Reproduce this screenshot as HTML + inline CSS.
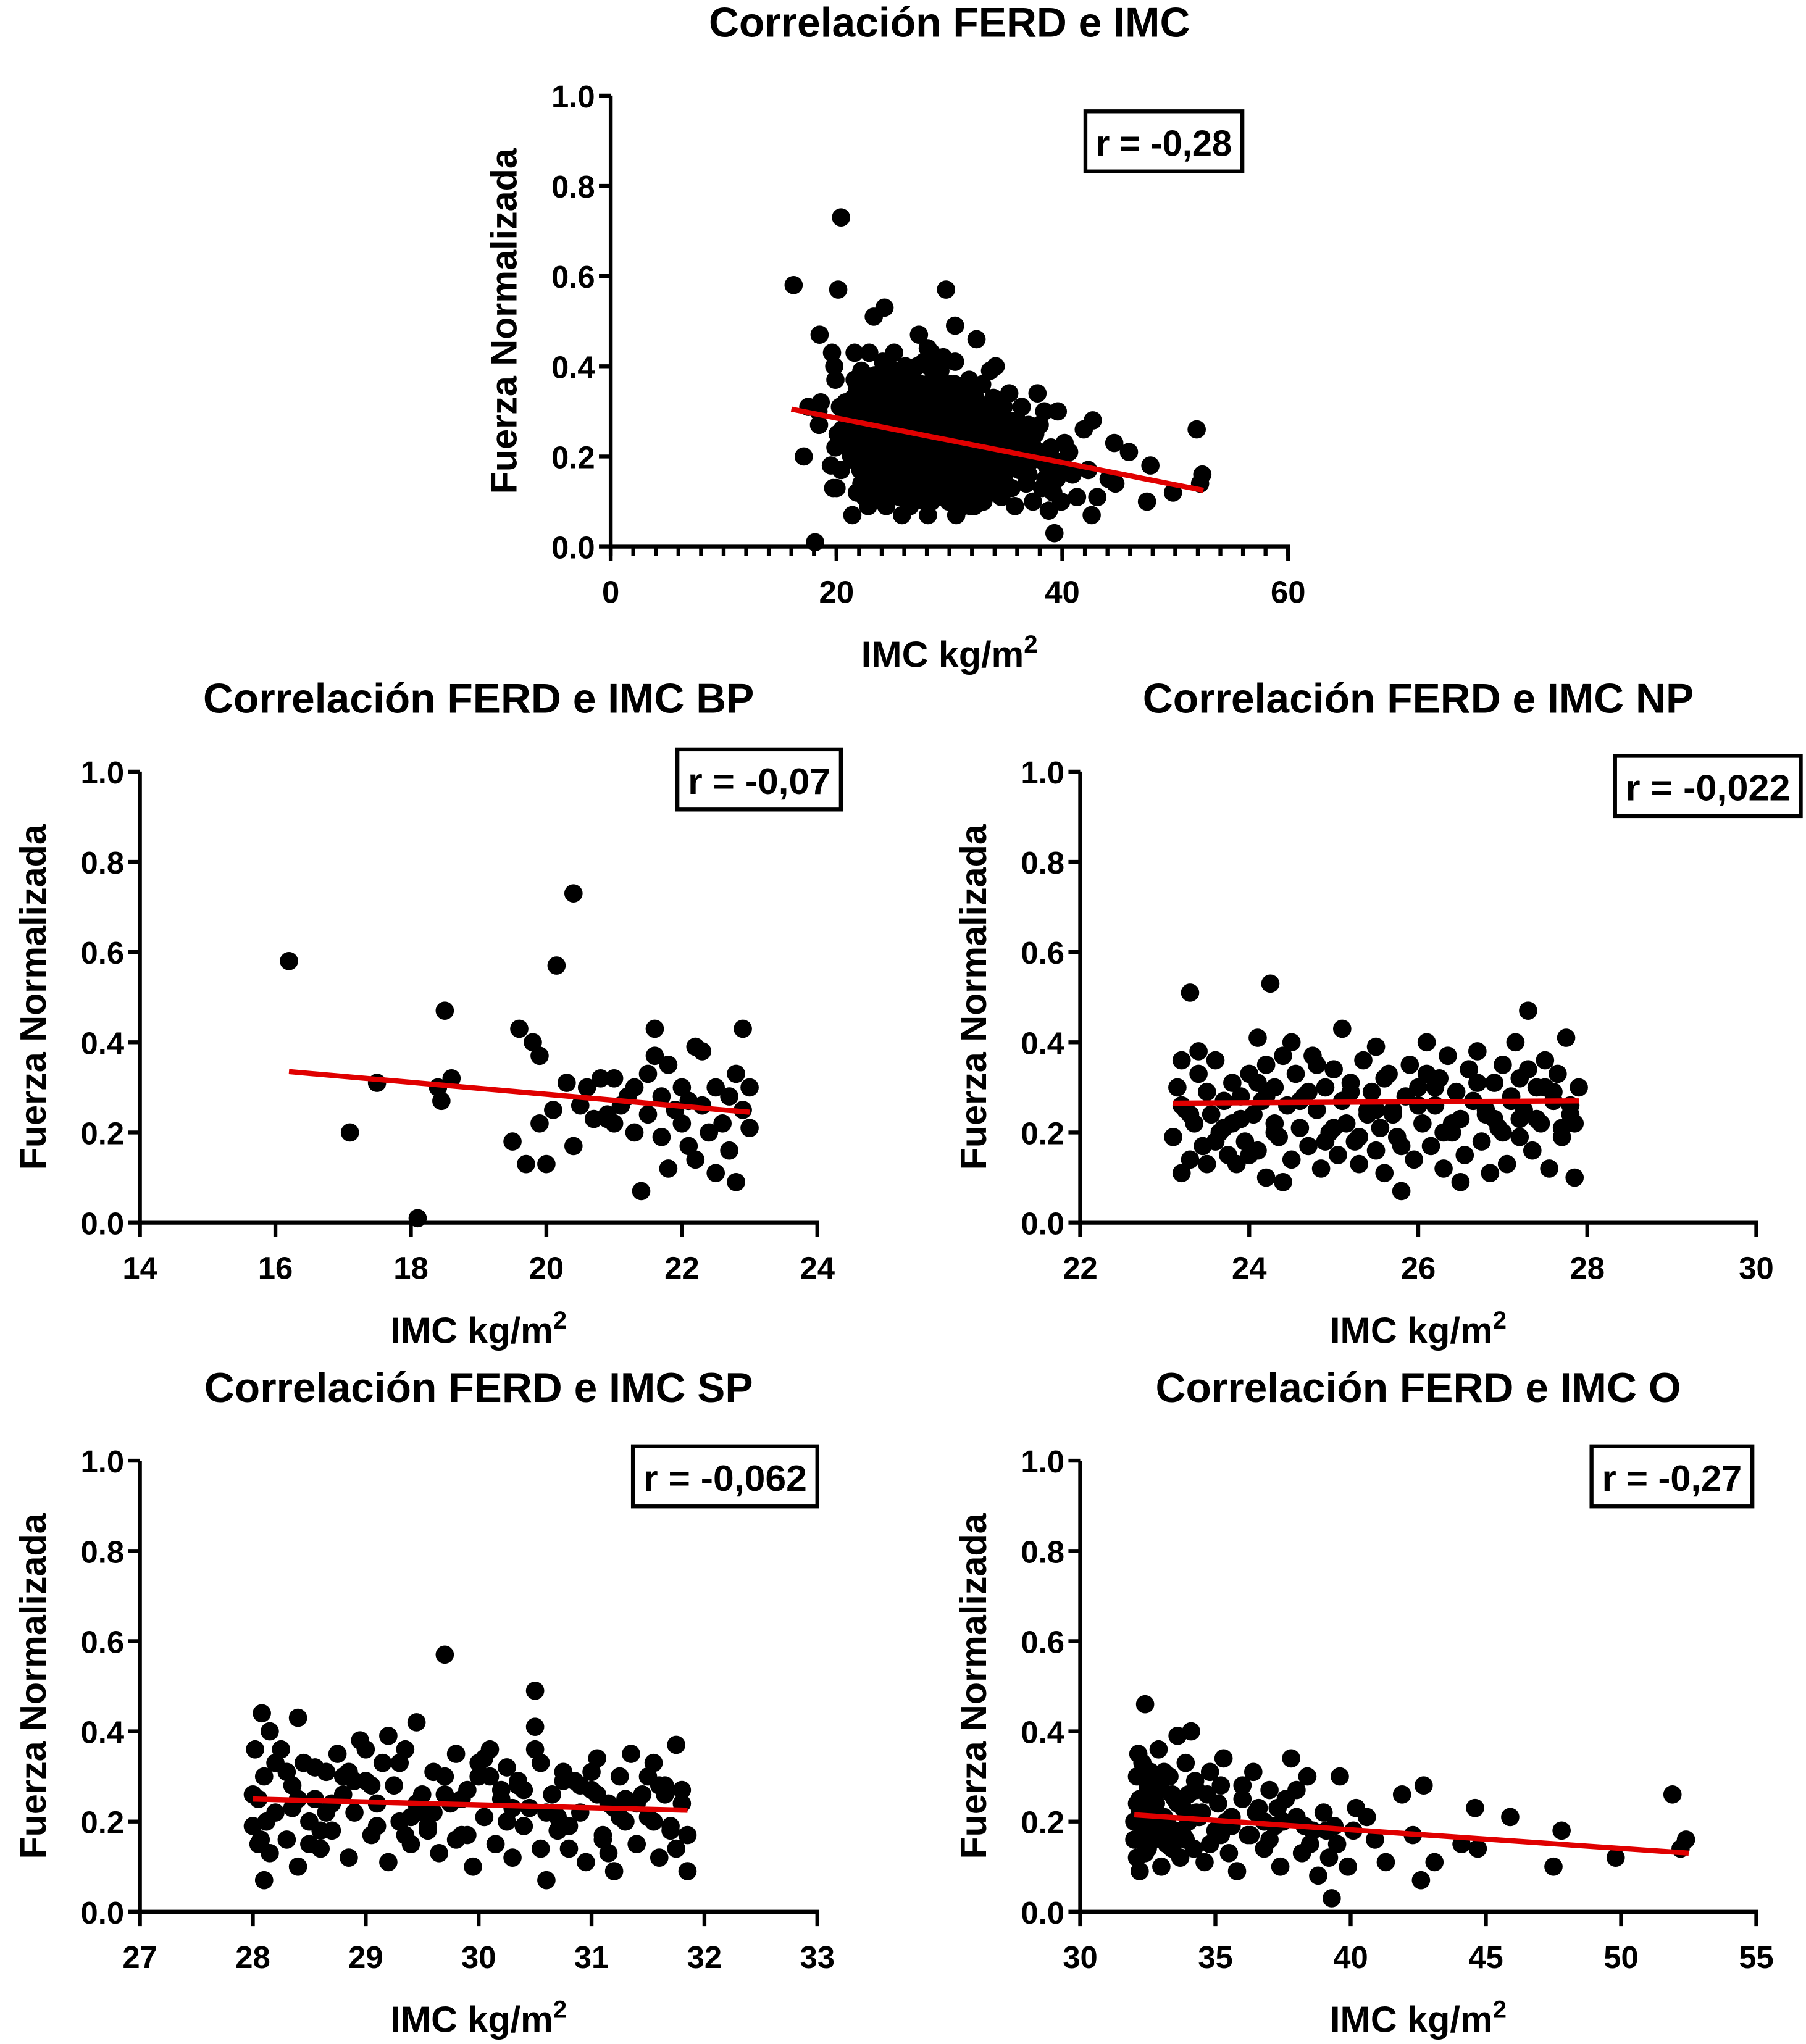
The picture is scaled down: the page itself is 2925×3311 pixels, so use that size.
<!DOCTYPE html>
<html><head><meta charset="utf-8">
<style>
html,body{margin:0;padding:0;background:#fff;}
svg{display:block;}
text{font-family:"Liberation Sans",Arial,sans-serif;font-weight:bold;fill:#000;}
</style></head>
<body>
<svg id="fig" xmlns="http://www.w3.org/2000/svg" width="2925" height="3311" viewBox="0 0 1381 1563"></svg>
<script>
// ---- data ----
const bpX = [16.2,17.1,17.5,18.1,18.4,18.45,18.5,18.6,19.5,19.6,19.7,19.8,19.9,19.9,20.0,20.1,20.15,20.4,20.3,20.4,20.5,20.6,20.7,20.8,20.9,21.0,21.0,21.1,21.2,21.3,21.4,21.5,21.5,21.6,21.6,21.7,21.7,21.8,21.8,21.9,22.0,22.0,22.1,22.2,22.2,22.3,22.3,22.4,22.5,22.5,22.6,22.7,22.7,22.8,22.8,22.9,22.9,23.0,23.0,22.1,21.3,20.9];
const bpY = [0.58,0.20,0.31,0.01,0.30,0.27,0.47,0.32,0.18,0.43,0.13,0.40,0.37,0.22,0.13,0.25,0.57,0.73,0.31,0.17,0.26,0.30,0.23,0.32,0.24,0.32,0.22,0.26,0.28,0.20,0.07,0.33,0.24,0.43,0.37,0.19,0.28,0.35,0.12,0.25,0.22,0.30,0.17,0.14,0.39,0.38,0.26,0.20,0.30,0.11,0.22,0.28,0.16,0.09,0.33,0.43,0.25,0.30,0.21,0.27,0.30,0.23];
const npX = [23.1,23.15,23.2,23.2,23.25,23.3,23.3,23.35,23.4,23.45,23.5,23.5,23.55,23.6,23.65,23.7,23.75,23.8,23.8,23.85,23.9,23.95,24.0,24.05,24.1,24.1,24.15,24.2,24.2,24.25,24.3,24.3,24.35,24.4,24.45,24.5,24.5,24.55,24.6,24.65,24.7,24.75,24.8,24.85,24.9,24.95,25.0,25.05,25.1,25.1,25.15,25.2,25.25,25.3,25.35,25.4,25.45,25.5,25.5,25.55,25.6,25.65,25.7,25.75,25.8,25.85,25.9,25.95,26.0,26.05,26.1,26.15,26.2,26.25,26.3,26.35,26.4,26.45,26.5,26.55,26.6,26.65,26.7,26.75,26.8,26.85,26.9,26.95,27.0,27.05,27.1,27.15,27.2,27.25,27.3,27.35,27.4,27.45,27.5,27.55,27.6,27.65,27.7,27.75,27.8,27.85,27.9,
 23.2,23.4,23.6,23.9,24.1,24.3,24.6,24.8,25.0,25.2,25.4,25.6,25.8,26.0,26.2,26.4,26.6,26.8,27.0,27.2,27.4,27.6,27.8,24.0,24.4,25.3,26.1,26.9,27.3,27.7,25.7,24.7,26.5,27.1,27.5,
 23.3,23.7,24.2,24.9,25.5,26.3,26.7,27.2,27.6,27.85];
const npY = [0.19,0.30,0.11,0.36,0.25,0.51,0.14,0.22,0.38,0.17,0.29,0.13,0.24,0.36,0.20,0.27,0.15,0.31,0.22,0.13,0.28,0.18,0.33,0.24,0.41,0.16,0.27,0.35,0.10,0.53,0.22,0.30,0.19,0.09,0.26,0.40,0.14,0.33,0.21,0.28,0.17,0.37,0.25,0.12,0.30,0.20,0.34,0.15,0.27,0.43,0.22,0.31,0.18,0.13,0.36,0.25,0.29,0.16,0.39,0.21,0.11,0.33,0.24,0.19,0.07,0.28,0.35,0.14,0.30,0.22,0.40,0.17,0.26,0.32,0.12,0.37,0.20,0.29,0.23,0.15,0.34,0.27,0.38,0.18,0.24,0.11,0.31,0.21,0.35,0.13,0.28,0.40,0.19,0.25,0.47,0.16,0.30,0.22,0.36,0.12,0.27,0.33,0.19,0.41,0.24,0.10,0.30,
 0.26,0.33,0.18,0.23,0.31,0.20,0.27,0.35,0.21,0.29,0.24,0.32,0.17,0.26,0.30,0.22,0.34,0.25,0.20,0.32,0.23,0.29,0.26,0.15,0.37,0.19,0.33,0.23,0.34,0.21,0.25,0.29,0.09,0.27,0.30,
 0.24,0.21,0.28,0.18,0.25,0.20,0.31,0.23,0.27,0.22];
const spX = [28.0,28.02,28.05,28.05,28.08,28.1,28.1,28.15,28.2,28.25,28.3,28.35,28.4,28.4,28.45,28.5,28.55,28.6,28.65,28.7,28.75,28.8,28.85,28.9,28.95,29.0,29.05,29.1,29.15,29.2,29.25,29.3,29.35,29.4,29.45,29.5,29.55,29.6,29.65,29.7,29.75,29.8,29.85,29.9,29.95,30.0,30.05,30.1,30.15,30.2,30.25,30.3,30.35,30.4,30.45,30.5,30.55,30.6,30.65,30.7,30.75,30.8,30.85,30.9,30.95,31.0,31.05,31.1,31.15,31.2,31.25,31.3,31.35,31.4,31.45,31.5,31.55,31.6,31.65,31.7,31.75,31.8,31.85,
 28.0,28.12,28.3,28.5,28.7,28.9,29.1,29.3,29.5,29.7,29.9,30.1,30.3,30.5,30.7,30.9,31.1,31.3,31.5,31.7,31.8,28.2,28.6,29.0,29.4,29.8,30.2,30.6,31.0,31.4,31.75,28.4,28.8,29.2,29.6,30.0,30.4,30.8,31.2,31.6,28.07,28.55,29.45,30.35,31.25,31.85,30.5,29.7,
 28.15,28.65,29.05,29.55,30.05,30.55,31.05,31.55,28.35,28.85,29.35,29.85,30.25,30.75,31.15,31.65];
const spY = [0.19,0.36,0.25,0.15,0.44,0.30,0.07,0.40,0.22,0.36,0.16,0.28,0.43,0.10,0.33,0.20,0.25,0.14,0.31,0.18,0.35,0.26,0.12,0.22,0.38,0.29,0.17,0.24,0.33,0.11,0.28,0.20,0.36,0.15,0.42,0.26,0.19,0.31,0.13,0.57,0.24,0.35,0.17,0.27,0.10,0.30,0.21,0.36,0.15,0.25,0.32,0.12,0.28,0.19,0.23,0.49,0.33,0.07,0.26,0.18,0.31,0.14,0.29,0.22,0.11,0.27,0.34,0.17,0.24,0.09,0.30,0.20,0.35,0.15,0.26,0.21,0.33,0.12,0.28,0.18,0.37,0.24,0.09,
 0.26,0.20,0.31,0.15,0.24,0.29,0.19,0.33,0.22,0.26,0.17,0.30,0.23,0.36,0.21,0.28,0.16,0.25,0.30,0.19,0.27,0.33,0.18,0.36,0.21,0.16,0.27,0.22,0.31,0.24,0.14,0.25,0.30,0.39,0.22,0.33,0.27,0.19,0.23,0.28,0.16,0.32,0.24,0.29,0.21,0.17,0.41,0.30,
 0.13,0.22,0.28,0.18,0.34,0.14,0.26,0.20,0.23,0.31,0.17,0.25,0.20,0.29,0.13,0.26];
const oX = [32.0,32.1,32.1,32.2,32.2,32.3,32.3,32.4,32.4,32.5,32.5,32.6,32.7,32.8,32.9,33.0,33.0,33.1,33.2,33.3,33.4,33.5,33.6,33.7,33.8,33.9,34.0,34.1,34.2,34.3,34.5,34.6,34.8,35.0,35.1,35.3,35.5,35.6,35.8,36.0,36.2,36.4,36.6,36.8,37.0,37.2,37.4,37.6,37.8,38.0,38.2,38.4,38.6,38.8,39.0,39.2,39.3,39.4,39.6,39.9,40.2,40.6,40.9,41.3,41.9,42.3,42.6,42.7,43.1,44.1,44.6,44.7,45.9,47.5,47.8,49.8,51.9,52.2,52.4,
 32.0,32.2,32.4,32.6,32.8,33.0,33.2,33.4,33.6,33.8,34.0,34.4,34.8,35.2,35.6,36.0,36.5,37.0,37.5,38.0,38.5,39.1,32.1,32.3,32.5,32.7,32.9,33.1,33.3,33.5,33.9,34.3,34.7,35.4,36.3,37.3,38.3,39.5,40.1,32.15,32.45,32.85,33.25,33.75,34.25,35.2,36.8];
const oY = [0.20,0.30,0.12,0.25,0.09,0.33,0.17,0.46,0.22,0.28,0.14,0.31,0.19,0.24,0.36,0.10,0.27,0.21,0.15,0.30,0.26,0.18,0.39,0.12,0.23,0.33,0.20,0.40,0.14,0.27,0.22,0.11,0.31,0.18,0.24,0.34,0.13,0.21,0.09,0.28,0.17,0.31,0.23,0.14,0.27,0.19,0.10,0.25,0.34,0.21,0.13,0.30,0.18,0.08,0.22,0.12,0.03,0.19,0.30,0.10,0.23,0.21,0.16,0.11,0.26,0.17,0.07,0.28,0.11,0.15,0.23,0.14,0.21,0.10,0.18,0.12,0.26,0.14,0.16,
 0.16,0.22,0.13,0.25,0.18,0.29,0.20,0.14,0.24,0.17,0.26,0.21,0.15,0.28,0.19,0.25,0.22,0.16,0.20,0.27,0.15,0.18,0.24,0.19,0.27,0.16,0.21,0.31,0.18,0.25,0.16,0.22,0.26,0.20,0.17,0.23,0.19,0.15,0.18,0.35,0.22,0.28,0.18,0.24,0.29,0.17,0.20];
// fitted regression line end-points [x0, y0, x1, y1]
const fitAll = [16, 0.305, 52.5, 0.125];
const fitBP = [16.2, 0.335, 23.0, 0.245];
const fitNP = [23.1, 0.265, 27.9, 0.27];
const fitSP = [28.0, 0.25, 31.85, 0.225];
const fitO = [32.0, 0.215, 52.5, 0.13];
const yTicks = [0, 0.2, 0.4, 0.6, 0.8, 1.0];
const xTicksAll = [0, 20, 40, 60];
const xTicksBP = [14, 16, 18, 20, 22, 24];
const xTicksNP = [22, 24, 26, 28, 30];
const xTicksSP = [27, 28, 29, 30, 31, 32, 33];
const xTicksO = [30, 35, 40, 45, 50, 55];
const rLabels = ["r = -0,28", "r = -0,07", "r = -0,022", "r = -0,062", "r = -0,27"];
const allX = [].concat(bpX, npX, spX, oX);
const allY = [].concat(bpY, npY, spY, oY);

const NS = "http://www.w3.org/2000/svg";
const svg = document.getElementById("fig");
function el(tag, attrs, parent) {
  const e = document.createElementNS(NS, tag);
  for (const k in attrs) e.setAttribute(k, attrs[k]);
  (parent || svg).appendChild(e);
  return e;
}
function panel(p) {
  const g = el("g", {});
  
  
  const xmin = p.xt[0], xmax = p.xt[p.xt.length - 1];
  const sx = v => p.x0 + (v - xmin) / (xmax - xmin) * (p.x1 - p.x0);
  const sy = v => p.y0 - v * (p.y0 - p.y1);
  const t = el("text", {x: (p.x0 + p.x1) / 2, y: p.y1 - 45, "text-anchor": "middle", "font-size": 32}, g);
  t.textContent = p.title;
  
  
  const n = Math.min(p.xs.length, p.ys.length);
  for (let i = 0; i < n; i++) {
    const c = el("circle", {cx: sx(p.xs[i]), cy: sy(p.ys[i]), r: 7, fill: "#000"}, g);
    
    
  }
  const ln = el("line", {x1: sx(p.fit[0]), y1: sy(p.fit[1]), x2: sx(p.fit[2]), y2: sy(p.fit[3]), stroke: "#e00000", "stroke-width": 4}, g);
  
  
  const ya = el("line", {x1: p.x0, y1: p.y1, x2: p.x0, y2: p.y0 + 1.5, stroke: "#000", "stroke-width": 3}, g);
  
  
  const xa = el("line", {x1: p.x0 - 1.5, y1: p.y0, x2: p.x1 + 1.5, y2: p.y0, stroke: "#000", "stroke-width": 3}, g);
  
  
  for (const v of yTicks) {
    el("line", {x1: p.x0 - 9, y1: sy(v), x2: p.x0, y2: sy(v), stroke: "#000", "stroke-width": 3}, g);
    const tl = el("text", {x: p.x0 - 12, y: sy(v) + 9, "text-anchor": "end", "font-size": 24}, g);
    tl.textContent = v.toFixed(1);
    
    
  }
  if (p.minor) {
    for (let v = xmin; v <= xmax; v += p.minor)
      el("line", {x1: sx(v), y1: p.y0, x2: sx(v), y2: p.y0 + 7, stroke: "#000", "stroke-width": 3}, g);
  }
  for (const v of p.xt) {
    el("line", {x1: sx(v), y1: p.y0, x2: sx(v), y2: p.y0 + 11, stroke: "#000", "stroke-width": 3}, g);
    const tl = el("text", {x: sx(v), y: p.y0 + 43, "text-anchor": "middle", "font-size": 24}, g);
    tl.textContent = String(v);
    
    
  }
  const yl = el("text", {x: 0, y: 0, transform: "translate(" + (p.x0 - 72) + "," + ((p.y0 + p.y1) / 2) + ") rotate(-90)", "text-anchor": "middle", "font-size": 28}, g);
  yl.textContent = "Fuerza Normalizada";
  
  
  const xl = el("text", {x: (p.x0 + p.x1) / 2, y: p.y0 + 92, "text-anchor": "middle", "font-size": 28}, g);
  
  
  xl.appendChild(document.createTextNode("IMC kg/m"));
  const sup = el("tspan", {dy: -11, "font-size": 19}, xl);
  sup.textContent = "2";
  const rb = el("rect", {x: p.rb[0], y: p.rb[1], width: p.rb[2], height: 46, fill: "#fff", stroke: "#000", "stroke-width": 3}, g);
  
  
  const rt = el("text", {x: p.rb[0] + p.rb[2] / 2, y: p.rb[1] + 34, "text-anchor": "middle", "font-size": 28, textLength: p.rb[2] - 16, lengthAdjust: "spacingAndGlyphs"}, g);
  rt.textContent = p.r;
  
  
}
panel({name: "panel-all", title: "Correlación FERD e IMC", x0: 467, x1: 985, y0: 418, y1: 73, xt: xTicksAll, minor: 2, xs: allX, ys: allY, fit: fitAll, r: rLabels[0], rb: [830, 85, 120]});
panel({name: "panel-bp", title: "Correlación FERD e IMC BP", x0: 107, x1: 625, y0: 935, y1: 590, xt: xTicksBP, xs: bpX, ys: bpY, fit: fitBP, r: rLabels[1], rb: [518, 573, 125]});
panel({name: "panel-np", title: "Correlación FERD e IMC NP", x0: 826, x1: 1343, y0: 935, y1: 590, xt: xTicksNP, xs: npX, ys: npY, fit: fitNP, r: rLabels[2], rb: [1235, 578, 142]});
panel({name: "panel-sp", title: "Correlación FERD e IMC SP", x0: 107, x1: 625, y0: 1462, y1: 1117, xt: xTicksSP, xs: spX, ys: spY, fit: fitSP, r: rLabels[3], rb: [484, 1106, 141]});
panel({name: "panel-o", title: "Correlación FERD e IMC O", x0: 826, x1: 1343, y0: 1462, y1: 1117, xt: xTicksO, xs: oX, ys: oY, fit: fitO, r: rLabels[4], rb: [1217, 1106, 123]});
</script>
</body></html>
